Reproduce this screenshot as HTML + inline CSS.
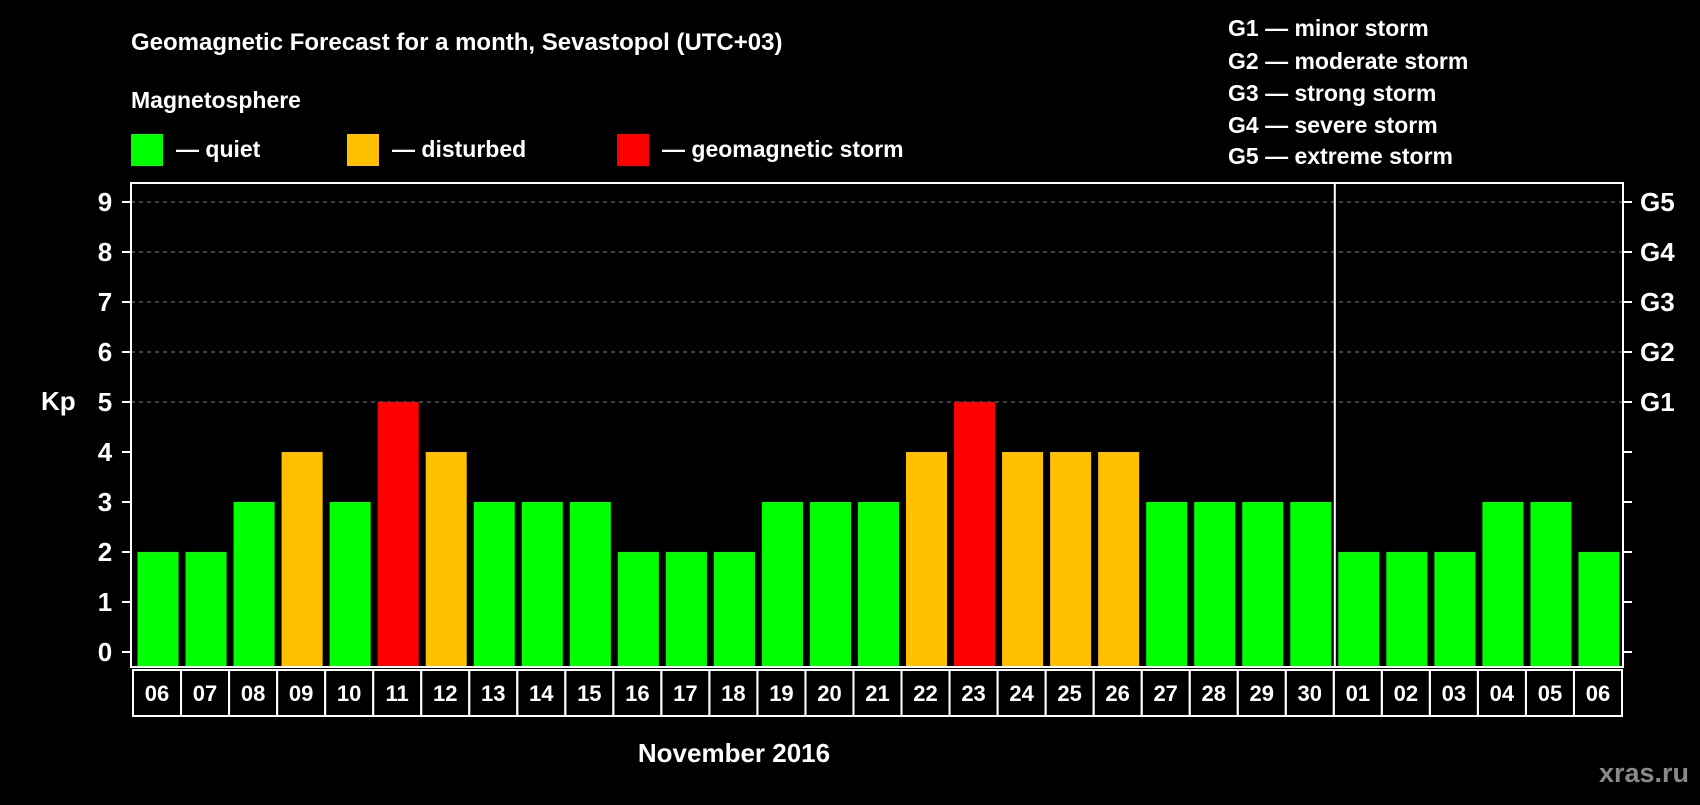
<!DOCTYPE html>
<html><head><meta charset="utf-8"><style>
body{margin:0;background:#000;width:1700px;height:800px;overflow:hidden;font-family:"Liberation Sans",sans-serif;font-weight:bold;color:#fff}
</style></head><body>
<svg id="c" width="1700" height="800" xmlns="http://www.w3.org/2000/svg" font-family="Liberation Sans, sans-serif" font-weight="bold">
<text x="131" y="50" fill="#fff" font-size="24">Geomagnetic Forecast for a month, Sevastopol (UTC+03)</text>
<text x="131" y="108" fill="#fff" font-size="23">Magnetosphere</text>
<rect x="131" y="134" width="32" height="32" fill="#00ff00"/>
<text x="176" y="157" fill="#fff" font-size="23">— quiet</text>
<rect x="347" y="134" width="32" height="32" fill="#ffc000"/>
<text x="392" y="157" fill="#fff" font-size="23">— disturbed</text>
<rect x="617" y="134" width="32" height="32" fill="#ff0000"/>
<text x="662" y="157" fill="#fff" font-size="23">— geomagnetic storm</text>
<g font-size="23" fill="#fff">
<text x="1228" y="36">G1 — minor storm</text>
<text x="1228" y="69">G2 — moderate storm</text>
<text x="1228" y="101">G3 — strong storm</text>
<text x="1228" y="133">G4 — severe storm</text>
<text x="1228" y="164">G5 — extreme storm</text>
</g>
<text x="41" y="410" fill="#fff" font-size="26">Kp</text>
<text x="734" y="762" fill="#fff" font-size="26" text-anchor="middle">November 2016</text>
<text x="1689" y="782" fill="#8a8a8a" font-size="27" text-anchor="end">xras.ru</text>
<g id="grid"></g><g id="bars"></g><g id="axes"></g>
</svg>
<script>
const days=["06","07","08","09","10","11","12","13","14","15","16","17","18","19","20","21","22","23","24","25","26","27","28","29","30","01","02","03","04","05","06"];
const kp=[2,2,3,4,3,5,4,3,3,3,2,2,2,3,3,3,4,5,4,4,4,3,3,3,3,2,2,2,3,3,2];
const yTicks=[0,1,2,3,4,5,6,7,8,9];
const gLabels=["G1","G2","G3","G4","G5"];
const gLevels=[5,6,7,8,9];
const monthBreak=25;
const NS="http://www.w3.org/2000/svg";
const L=131,R=1623,T=183,B=667,X0=134,P=(R-X0)/days.length;
const y=v=>652-v*50;
const x=i=>X0+i*P;
function mk(t,a,p){const e=document.createElementNS(NS,t);for(const k in a)e.setAttribute(k,a[k]);p.appendChild(e);return e;}
const grid=document.getElementById('grid'),bars=document.getElementById('bars'),axes=document.getElementById('axes');
gLevels.forEach(v=>{const g=mk('line',{x1:L,x2:R,y1:y(v),y2:y(v),stroke:'#888','stroke-dasharray':'4,4','stroke-width':1},grid);

});
kp.forEach((v,i)=>{const c=v>=5?'#ff0000':v>=4?'#ffc000':'#00ff00';
const r=mk('rect',{x:x(i)+3.5,y:y(v),width:P-7,height:B-y(v),fill:c},bars);

});
const box=mk('rect',{x:L,y:T,width:R-L,height:B-T,fill:'none',stroke:'#fff','stroke-width':2},axes);


const sep=mk('line',{x1:x(monthBreak),x2:x(monthBreak),y1:T,y2:B,stroke:'#fff','stroke-width':2},axes);


yTicks.forEach(v=>{mk('line',{x1:L-9,x2:L,y1:y(v),y2:y(v),stroke:'#fff','stroke-width':2},axes);
mk('line',{x1:R,x2:R+9,y1:y(v),y2:y(v),stroke:'#fff','stroke-width':2},axes);
const t=mk('text',{x:105,y:y(v)+9,fill:'#fff','font-size':26,'text-anchor':'middle'},axes);t.textContent=v;

});
gLevels.forEach((v,i)=>{const t=mk('text',{x:1640,y:y(v)+9,fill:'#fff','font-size':26},axes);t.textContent=gLabels[i];

});
days.forEach((d,i)=>{const r=mk('rect',{x:x(i)-1,y:B+3,width:P,height:46,fill:'none',stroke:'#fff','stroke-width':2},axes);


const t=mk('text',{x:x(i)-1+P/2,y:B+34,fill:'#fff','font-size':22,'text-anchor':'middle'},axes);t.textContent=d;

});
</script>
</body></html>
